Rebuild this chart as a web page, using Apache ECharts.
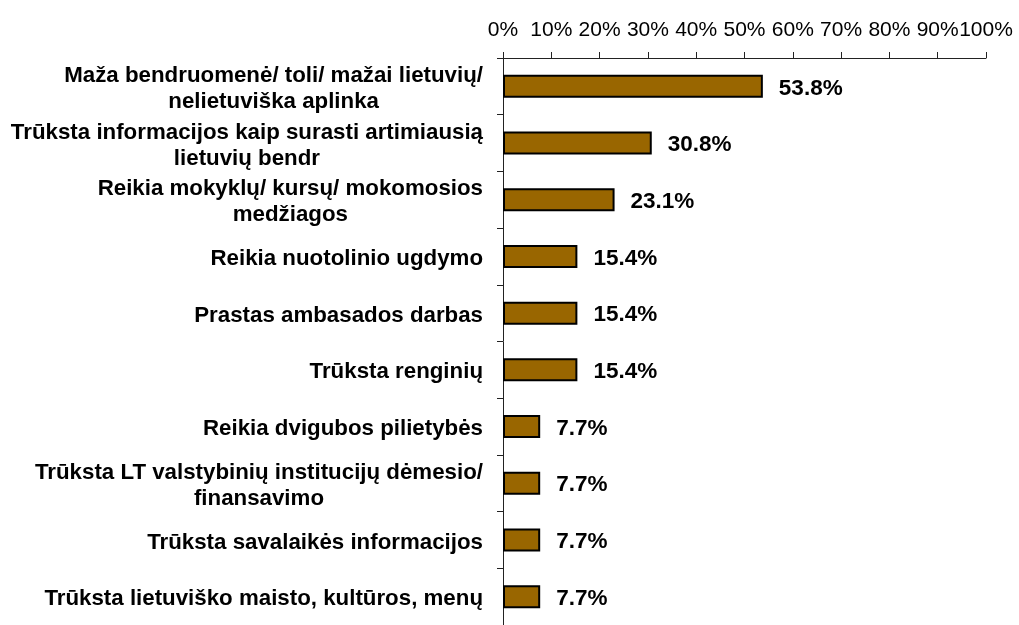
<!DOCTYPE html>
<html>
<head>
<meta charset="utf-8">
<script src="https://cdn.jsdelivr.net/npm/echarts@6/dist/echarts.min.js"></script>
<style>
  html, body { margin: 0; padding: 0; background: #fff; }
  #container { width: 1019px; height: 625px; }
</style>
</head>
<body>
<div id="container"></div>
<script>
const categories = [
  "Maža bendruomenė/ toli/ mažai lietuvių/\nnelietuviška aplinka",
  "Trūksta informacijos kaip surasti artimiausią\nlietuvių bendr",
  "Reikia mokyklų/ kursų/ mokomosios\nmedžiagos",
  "Reikia nuotolinio ugdymo",
  "Prastas ambasados darbas",
  "Trūksta renginių",
  "Reikia dvigubos pilietybės",
  "Trūksta LT valstybinių institucijų dėmesio/\nfinansavimo",
  "Trūksta savalaikės informacijos",
  "Trūksta lietuviško maisto, kultūros, menų",
];
const values = [53.8, 30.8, 23.1, 15.4, 15.4, 15.4, 7.7, 7.7, 7.7, 7.7];
const tickLabels = ["0%", "10%", "20%", "30%", "40%", "50%", "60%", "70%", "80%", "90%", "100%"];

const dom = document.getElementById("container");
const myChart = echarts.init(dom, null, { renderer: "canvas" });

const font = "'Liberation Sans', Arial, sans-serif";

const option = {
  animation: false,
  grid: {
    left: 503,
    right: 33,
    top: 58,
    bottom: -7,
  },
  xAxis: {
    type: "value",
    position: "top",
    min: 0,
    max: 100,
    interval: 10,
    splitLine: { show: false },
    axisLine: { show: true, lineStyle: { color: "#222", width: 1 } },
    axisTick: { show: true, length: 6, lineStyle: { color: "#222" } },
    axisLabel: {
      margin: 17,
      fontFamily: font,
      fontSize: 21,
      color: "#000",
      formatter: (v) => tickLabels[Math.round(v / 10)],
    },
  },
  yAxis: {
    type: "category",
    inverse: true,
    data: categories,
    axisLine: { show: true, lineStyle: { color: "#222", width: 1 } },
    axisTick: { show: true, length: 6, lineStyle: { color: "#222" } },
    axisLabel: {
      margin: 20,
      align: "right",
      padding: [5, 0, 0, 0],
      formatter: (v) => v.split("\n").map((s) => "{c|" + s + "}").join("\n"),
      rich: {
        c: {
          align: "center",
          fontFamily: font,
          fontWeight: "bold",
          fontSize: 22.3,
          lineHeight: 26,
          color: "#000",
        },
      },
    },
  },
  series: [
    {
      type: "bar",
      data: values,
      barWidth: 23,
      itemStyle: {
        color: "#996600",
        borderColor: "#000",
        borderWidth: 2,
      },
      label: {
        show: true,
        position: "right",
        distance: 16,
        offset: [0, 2],
        fontFamily: font,
        fontWeight: "bold",
        fontSize: 22.5,
        color: "#000",
        formatter: (p) => p.value.toFixed(1) + "%",
      },
    },
  ],
};

myChart.setOption(option);
window.addEventListener("resize", myChart.resize);
</script>
</body>
</html>
